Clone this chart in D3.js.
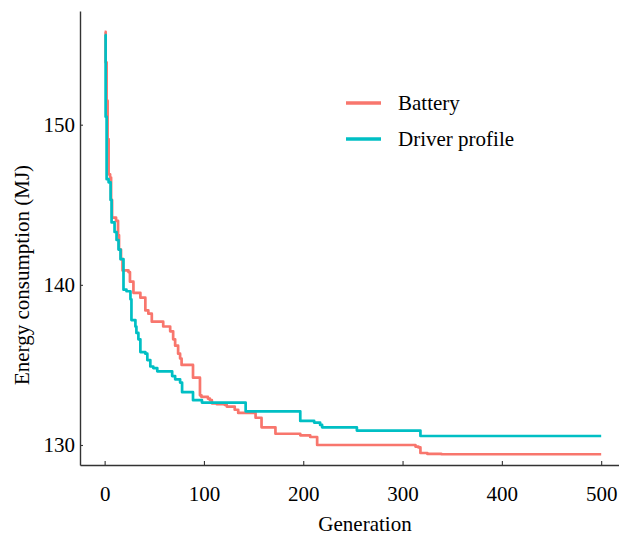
<!DOCTYPE html>
<html>
<head>
<meta charset="utf-8">
<script src="https://cdn.jsdelivr.net/npm/d3@7"></script>
<style>
  html, body { margin: 0; padding: 0; background: #fff; }
  svg { display: block; }
  svg text { font-family: "Liberation Serif", "LiberationSerif", "Times New Roman", Times, "Nimbus Roman", "DejaVu Serif", serif; fill: #000; }
</style>
</head>
<body>
<svg id="chart" width="619" height="536"></svg>
<script>
// Best energy consumption found per generation, stored as step change points
const batteryGen = [0, 1, 2, 3, 4, 5.5, 6.5, 7.5, 11.5, 13.5, 14.5, 16.5, 18, 24, 25.5, 29, 36, 41, 44, 47.5,
  59, 66, 69, 71, 74, 76, 77.5, 89, 96, 97.5, 104, 106, 108, 113, 121, 123, 131, 134.5, 152, 158,
  172, 197, 207, 214, 313, 316, 318, 325, 339, 500];
const batteryVal = [155.8, 153.9, 151.5, 149.1, 146.9, 146.7, 145.3, 144.2, 144.0, 143.1, 142.2, 141.6, 140.9, 140.8, 140.2, 139.5, 139.2, 138.4, 138.2, 137.7,
  137.4, 137.1, 136.6, 136.2, 135.7, 135.4, 135.0, 134.2, 133.1, 133.0, 132.9, 132.8, 132.6, 132.55, 132.5, 132.4, 132.2, 132.0, 131.7, 131.1,
  130.7, 130.6, 130.5, 130.0, 129.9, 129.85, 129.5, 129.44, 129.42, 129.42];

const profileGen = [0, 1, 2, 4, 6, 7, 10, 12, 14, 16, 19, 22, 26, 27, 31, 32, 34, 36, 41, 43,
  46, 49, 53, 68, 71, 76, 78, 89, 98, 142, 197, 211, 217, 219, 254, 318, 500];
const profileVal = [155.6, 150.5, 146.6, 146.4, 145.3, 143.9, 143.3, 142.8, 142.2, 141.6, 139.7, 139.6, 139.1, 137.8, 137.4, 137.0, 136.6, 135.8, 135.7, 135.3,
  134.9, 134.8, 134.6, 134.3, 134.1, 133.9, 133.3, 132.8, 132.65, 132.1, 131.5, 131.4, 131.25, 131.1, 130.9, 130.56, 130.56];

const seriesNames = ["Battery", "Driver profile"];
const seriesColors = ["#F8766D", "#00BFC4"];
const xTicks = [0, 100, 200, 300, 400, 500];
const yTicks = [130, 140, 150];

const FONT = "'Liberation Serif', 'Times New Roman', Times, 'Nimbus Roman', 'DejaVu Serif', serif";

const series = [
  { name: seriesNames[0], color: seriesColors[0], pts: batteryGen.map((g, i) => [g, batteryVal[i]]) },
  { name: seriesNames[1], color: seriesColors[1], pts: profileGen.map((g, i) => [g, profileVal[i]]) }
];

const svg = d3.select("#chart");

// Panel limits include the usual 5% padding around the data
const x = d3.scaleLinear().domain([-24.8, 525]).range([80, 626]);
const y = d3.scaleLinear().domain([128.75, 157.1]).range([465, 11]);

const line = d3.line()
  .x(d => x(d[0]))
  .y(d => y(d[1]))
  .curve(d3.curveStepAfter);

svg.append("g")
  .selectAll("path")
  .data(series)
  .join("path")
  .attr("d", d => line(d.pts))
  .attr("fill", "none")
  .attr("stroke", d => d.color)
  .attr("stroke-width", 2.7)
  .attr("stroke-linejoin", "round");

// Axes: ticks point into the panel
const xAxis = svg.append("g")
  .attr("transform", "translate(0,465)")
  .call(d3.axisBottom(x).tickValues(xTicks).tickSizeInner(-4).tickSizeOuter(0).tickPadding(21));
const yAxis = svg.append("g")
  .attr("transform", "translate(80,0)")
  .call(d3.axisLeft(y).tickValues(yTicks).tickSizeInner(-3).tickSizeOuter(0).tickPadding(5));

[xAxis, yAxis].forEach(a => {
  a.attr("font-family", FONT).attr("font-size", 21);
  a.select(".domain").attr("stroke", "#333").attr("stroke-width", 1.4);
  a.selectAll(".tick line").attr("stroke", "#333").attr("stroke-width", 1.1);
  a.selectAll(".tick text")
    .attr("fill", "#000")
    .attr("font-family", FONT)
    .style("font-family", FONT)
    .style("font-size", "21px");
});

// Axis titles
svg.append("text")
  .attr("x", 365)
  .attr("y", 531)
  .attr("text-anchor", "middle")
  .attr("font-family", FONT)
  .style("font-size", "21px")
  .text("Generation");

svg.append("text")
  .attr("transform", "translate(29,275) rotate(-90)")
  .attr("text-anchor", "middle")
  .attr("font-family", FONT)
  .style("font-size", "21px")
  .text("Energy consumption (MJ)");

// Legend
const legend = svg.append("g");
const legendRows = legend.selectAll("g")
  .data(series)
  .join("g")
  .attr("transform", (d, i) => `translate(346,${103 + i * 36})`);
legendRows.append("line")
  .attr("x1", 0).attr("x2", 35)
  .attr("stroke", d => d.color)
  .attr("stroke-width", 3.6);
legendRows.append("text")
  .attr("x", 52)
  .attr("y", 7)
  .attr("font-family", FONT)
  .style("font-size", "21px")
  .text(d => d.name);
</script>
</body>
</html>
